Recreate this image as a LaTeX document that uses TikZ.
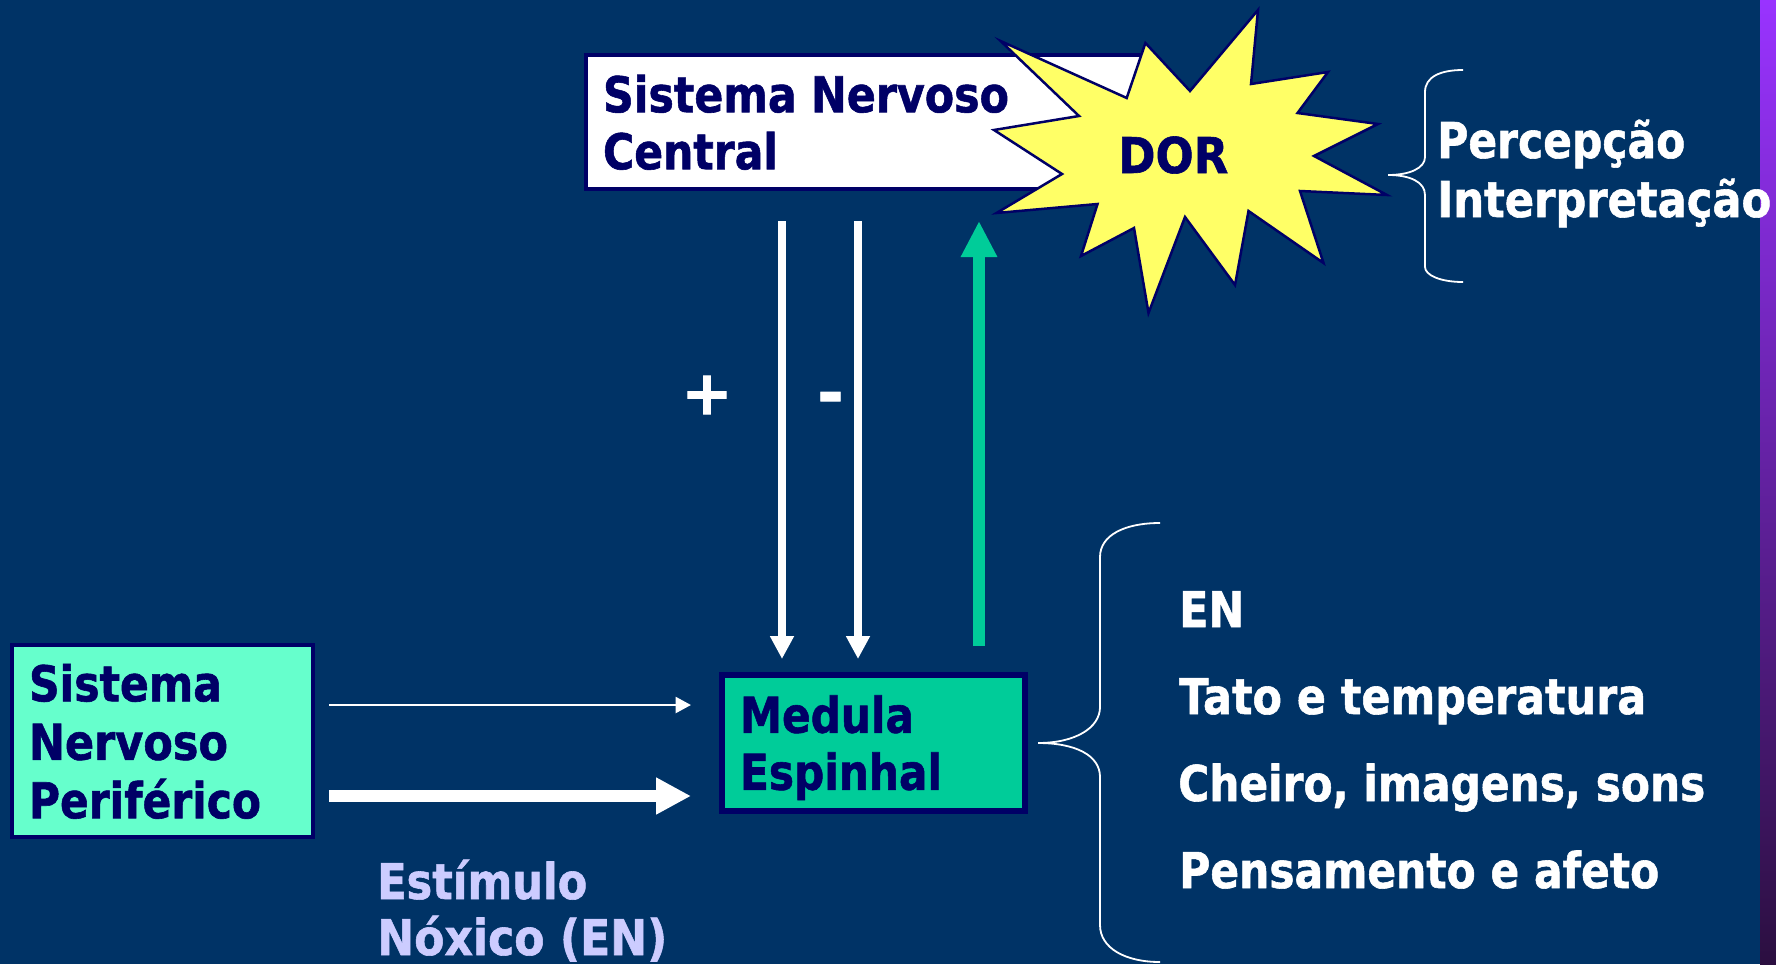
\documentclass[tikz,border=0pt]{standalone}
\usepackage{fontspec}
\usepackage{graphicx}
\setmainfont{DejaVu Sans}[BoldFeatures={FakeBold=1.2}]
\usetikzlibrary{arrows.meta}
\definecolor{bgblue}{HTML}{003366}
\definecolor{navy}{HTML}{000066}
\definecolor{aqua}{HTML}{66FFCC}
\definecolor{seagreen}{HTML}{00CC99}
\definecolor{starfill}{HTML}{FFFF66}
\definecolor{lilac}{HTML}{CCCCFF}
\definecolor{stripa}{HTML}{9933FF}
\definecolor{stripb}{HTML}{6622AA}
\definecolor{stripc}{HTML}{2B0F40}
\newlength\pxu \setlength\pxu{0.75pt}
\newcommand\fitline[2]{\raisebox{0pt}[\height][0pt]{\resizebox{#1\pxu}{\height}{#2}}}
\newcommand\lastfit[2]{\raisebox{0pt}[\height][-1.5pt]{\resizebox{#1\pxu}{\height}{#2}}}
\tikzset{
  x=0.75pt,y=-0.75pt,
  lbl/.style={font=\bfseries\fontsize{37}{42.75}\selectfont,inner sep=0pt,anchor=base west},
  box/.style={lbl,anchor=center,draw=navy,text=navy,align=left,inner ysep=0pt},
  sign/.style={text=white,inner sep=0pt},
  starshape/.style={draw=navy,fill=starfill,line width=2.5\pxu,line join=miter},
  bracket/.style={draw=white,line width=1.8\pxu},
  thinarrow/.style={draw=white,line width=2.6\pxu,-{Triangle[length=11.6pt,width=12pt]}},
  thickarrow/.style={draw=white,line width=12\pxu,-{Triangle[length=26.25pt,width=26pt]}},
  downarrow/.style={draw=white,line width=8\pxu,-{Triangle[length=17.25pt,width=17pt]}},
  greenarrow/.style={draw=seagreen,line width=12.7\pxu,-{Triangle[length=27pt,width=25.5pt]}},
}
\begin{document}
\begin{tikzpicture}
\useasboundingbox (0,0) rectangle (1776,964);
\fill[bgblue] (0,0) rectangle (1776,964);
\shade[top color=stripa, middle color=stripb, bottom color=stripc] (1760,0) rectangle (1776,964);

% boxes
\node[box,fill=white,line width=4\pxu,minimum width=564\pxu,minimum height=134\pxu,text width=530\pxu,inner xsep=17\pxu] (snc) at (868,122)
  {\fitline{406}{Sistema Nervoso}\\\lastfit{175}{Central}};
\node[box,fill=aqua,line width=4\pxu,minimum width=301\pxu,minimum height=192\pxu,text width=267\pxu,inner xsep=17\pxu] (snp) at (162.5,741)
  {\fitline{193}{Sistema}\\[1.1pt]\fitline{199}{Nervoso}\\[1.1pt]\lastfit{232}{Periférico}};
\node[box,fill=seagreen,line width=6\pxu,minimum width=303\pxu,minimum height=136\pxu,text width=266\pxu,inner xsep=18.5\pxu] (med) at (873,742.5)
  {\fitline{174}{Medula}\\\lastfit{202}{Espinhal}};

% star
\draw[starshape] (1258,10) -- (1251,84) -- (1328,72) -- (1297.5,113) -- (1378,124) -- (1314,156) -- (1387,195) -- (1300,191) -- (1323.5,263) -- (1248.5,211) -- (1235,285) -- (1185,217) -- (1148.5,313) -- (1134,228) -- (1081,256) -- (1097.5,204) -- (996.5,213) -- (1062,174) -- (994,130) -- (1079,116) -- (1000.6,41) -- (1126.7,98) -- (1145.4,43) -- (1190,91) -- cycle;
\node[lbl,text=navy] (dor) at (1118,173) {\fitline{110}{DOR}};

% arrow end points
\coordinate (d1a) at (782,221); \coordinate (d1b) at (782,659);
\coordinate (d2a) at (858,221); \coordinate (d2b) at (858,659);
\coordinate (ua) at (979,646);  \coordinate (ub) at (979,221);
\coordinate (t1a) at (329,705); \coordinate (t1b) at (691,705);
\coordinate (t2a) at (329,796); \coordinate (t2b) at (691,796);
\draw[downarrow] (d1a) -- (d1b);
\draw[downarrow] (d2a) -- (d2b);
\draw[greenarrow] (ua) -- (ub);
\draw[thinarrow] (t1a) -- (t1b);
\draw[thickarrow] (t2a) -- (t2b);

% signs
\node[sign,font=\bfseries\fontsize{46}{46}\selectfont] (plus) at (707,395) {+};
\node[sign,font=\bfseries\fontsize{48}{48}\selectfont] (minus) at (830.5,403.5) {-};

% labels
\node[lbl,text=lilac] (est) at (377,899) {\fitline{210}{Estímulo}};
\node[lbl,text=lilac] (nox) at (377,955) {\fitline{290}{Nóxico (EN)}};

\node[lbl,text=white] (en) at (1179,627) {\fitline{65}{EN}};
\node[lbl,text=white] (tato) at (1179,714) {\fitline{467}{Tato e temperatura}};
\node[lbl,text=white] (chei) at (1178,801) {\fitline{527}{Cheiro, imagens, sons}};
\node[lbl,text=white] (pens) at (1179,888) {\fitline{480}{Pensamento e afeto}};

\node[lbl,text=white] (perc) at (1437,158) {\fitline{248}{Percepção}};
\node[lbl,text=white] (inte) at (1437,217) {\fitline{334}{Interpretação}};

% braces
\draw[bracket] (1463,70) .. controls (1440,70) and (1425,77) .. (1425,92) -- (1425,157) .. controls (1425,168) and (1410,175) .. (1388,175) .. controls (1410,175) and (1425,182) .. (1425,195) -- (1425,267) .. controls (1425,275) and (1440,282) .. (1463,282);
\draw[bracket] (1160,523) .. controls (1125,523) and (1100,535) .. (1100,557) -- (1100,707) .. controls (1100,728) and (1075,743) .. (1038,743) .. controls (1075,743) and (1100,755) .. (1100,777) -- (1100,925) .. controls (1100,948) and (1125,962) .. (1160,962);
\end{tikzpicture}
\end{document}
